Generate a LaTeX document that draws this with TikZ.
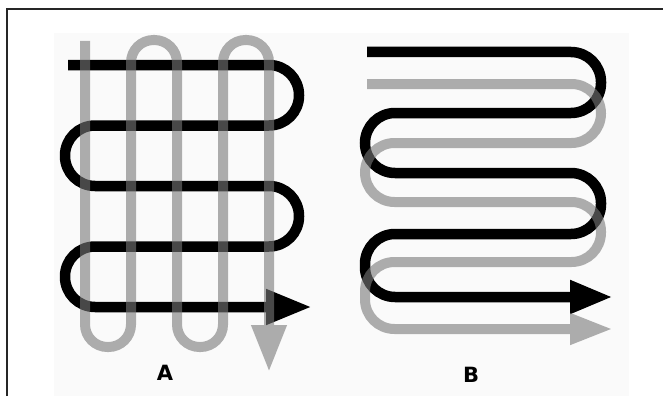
\documentclass[tikz,border=0pt]{standalone}
\usepackage{fontspec}
\setsansfont{DejaVu Sans}
\usetikzlibrary{arrows.meta}

\begin{document}
\begin{tikzpicture}[x=1pt, y=-1pt,
		blackpipe/.style={draw=black, line width=10.5pt, rounded corners=30pt},
		graypipe/.style={draw=black!53, line width=10pt, rounded corners=22.5pt},
		letter/.style={font=\sffamily\bfseries\fontsize{21}{21}\selectfont, inner sep=0pt}]
			\useasboundingbox (0, 0) rectangle (663, 396);
			% Frame and paper:
			\fill[black!2] (54, 33) rectangle (629, 396);
			\draw[black!85, line width=2.5pt] (7, 396) -- (7, 9) -- (663, 9);
			% A: crossing coils
			\draw[blackpipe, -{Triangle[length=46pt, width=33pt]}] (68, 65) -- (299, 65) -- (299, 125.5) -- (65, 125.5) -- (65, 186) -- (299, 186) -- (299, 246.5) -- (65, 246.5) -- (65, 307) -- (312, 307);
			\begin{scope}[transparency group, opacity=0.6]
			\draw[graypipe, -{Triangle[length=47pt, width=33pt]}] (85, 41) -- (85, 347) -- (131, 347) -- (131, 40) -- (177, 40) -- (177, 347) -- (223, 347) -- (223, 40) -- (269, 40) -- (269, 372);
			\end{scope}
			\node[letter](labA) at (165, 372.5){A};
			% B: parallel coils
			\draw[blackpipe, -{Triangle[length=43pt, width=31pt]}] (367, 52) -- (601, 52) -- (601, 113) -- (365, 113) -- (365, 173) -- (601, 173) -- (601, 234) -- (365, 234) -- (365, 297) -- (613, 297);
			\begin{scope}[transparency group, opacity=0.6]
			\draw[graypipe, rounded corners=29.5pt, -{Triangle[length=43pt, width=29pt]}] (367, 84) -- (601, 84) -- (601, 143) -- (365, 143) -- (365, 202) -- (601, 202) -- (601, 262) -- (365, 262) -- (365, 329) -- (613, 329);
			\end{scope}
			\node[letter](labB) at (471, 375){B};
		\end{tikzpicture}
\end{document}
